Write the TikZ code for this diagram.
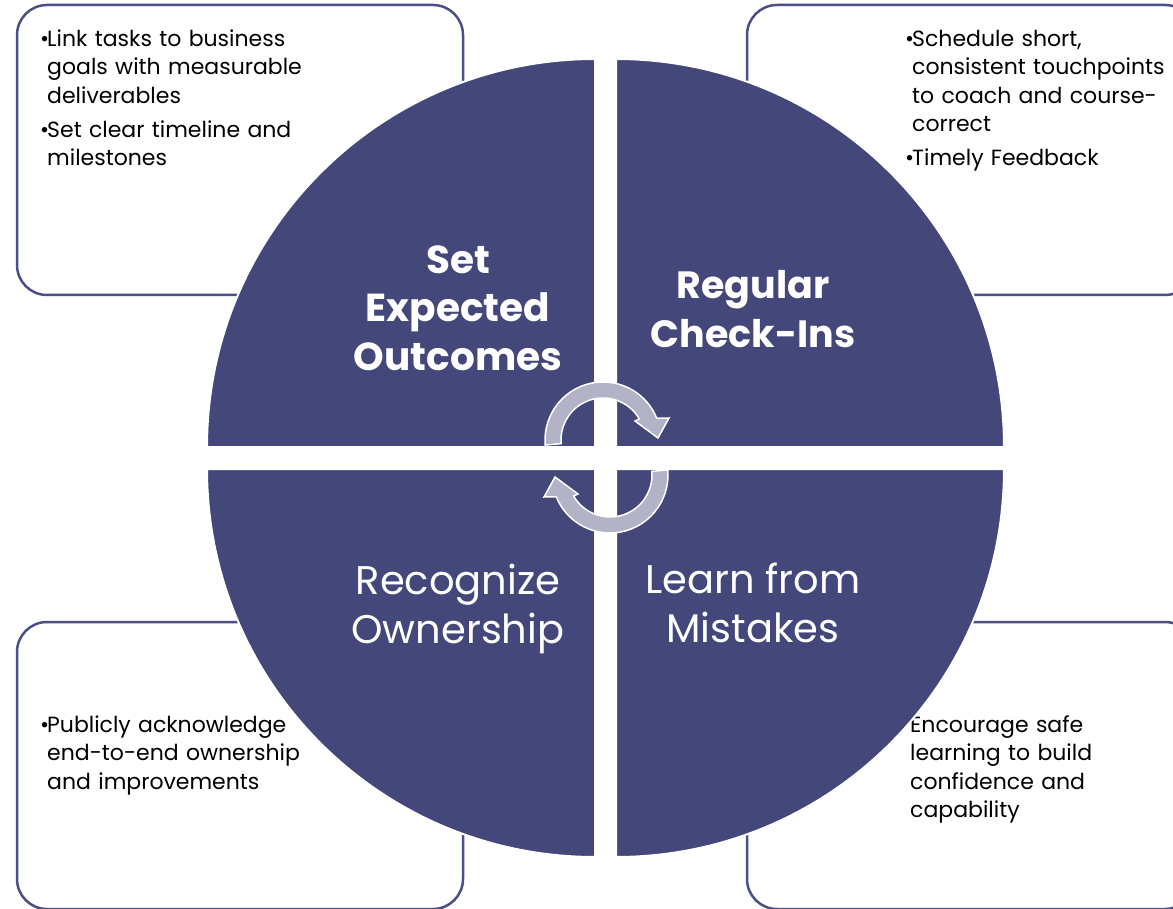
\documentclass[tikz,border=0pt]{standalone}
\usepackage{fontspec}
\setmainfont{Poppins}
\definecolor{quad}{HTML}{44477A}
\definecolor{boxline}{HTML}{4A4F86}
\definecolor{arrowfill}{HTML}{B3B3C7}
\newcommand\bul[1]{\par\hangindent=7pt\hangafter=1\noindent\makebox[7pt][l]{\textbullet}#1\par}
\newcommand\plain[1]{\par\noindent#1\par}
\newcommand\bulgap{\vspace{5.5pt}}
\begin{document}
\begin{tikzpicture}[x=1pt,y=-1pt,
  infobox/.style={draw=boxline, line width=2.5pt, rounded corners=30pt, fill=white},
  quadrant/.style={fill=quad, draw=white, line width=2pt},
  cyclearrow/.style={fill=arrowfill, draw=white, line width=1.5pt},
  bullets/.style={anchor=north west, text width=330pt, inner sep=0pt,
    font=\fontsize{22}{28.5}\selectfont\raggedright},
  titlebold/.style={text=white, align=center, inner sep=0pt,
    font=\fontsize{39}{48.5}\selectfont\bfseries},
  titlereg/.style={text=white, align=center, inner sep=0pt,
    font=\fontsize{40}{48.5}\selectfont}]
\useasboundingbox (0,0) rectangle (1173,909);
\clip (0,0) rectangle (1173,909);
% boxes
\draw[infobox] (17,5) rectangle (463,295);
\draw[infobox] (747,5) rectangle (1195,295);
\draw[infobox] (17,622) rectangle (463,909);
\draw[infobox] (747,622) rectangle (1195,909);
% bullet texts
\node[bullets] (tltext) at (40,17.5) {%
  \bul{Link tasks to business\newline goals with measurable\newline deliverables}\bulgap
  \bul{Set clear timeline and\newline milestones}};
\node[bullets] (trtext) at (905,17.5) {%
  \bul{Schedule short,\newline consistent touchpoints\newline to coach and course-\newline correct}\bulgap
  \bul{Timely Feedback}};
\node[bullets] (bltext) at (40,703.5) {\bul{Publicly acknowledge\newline end-to-end ownership\newline and improvements}};
\node[bullets] (brtext) at (910,703.5) {\plain{Encourage safe\newline learning to build\newline confidence and\newline capability}};
% quadrants
\draw[quadrant] (595,447) -- (207,447) arc[start angle=180, end angle=90, radius=388pt] -- cycle;
\draw[quadrant] (616,447) -- (616,59) arc[start angle=90, end angle=0, radius=388pt] -- cycle;
\draw[quadrant] (616,469) -- (1004,469) arc[start angle=0, end angle=-90, radius=388pt] -- cycle;
\draw[quadrant] (595,469) -- (595,857) arc[start angle=270, end angle=180, radius=388pt] -- cycle;
% titles
\node[titlebold] (q1) at (458,308) {Set\\Expected\\Outcomes};
\node[titlebold, font=\fontsize{38}{48.5}\selectfont\bfseries] (q2) at (753,309) {Regular\\Check-Ins};
\node[titlereg] (q3) at (458,609) {Recognize\\Ownership};
\node[titlereg] (q4) at (753,603) {Learn from\\Mistakes};
% cycle arrows
\coordinate (c1) at (603,440);
\coordinate (c2) at (610,475);
\draw[cyclearrow] ([shift={(185:58pt)}]c1) arc[start angle=185, end angle=22, radius=58pt]
  -- (669,418) -- (658,438) -- (635,421) -- ([shift={(30:42pt)}]c1)
  arc[start angle=30, end angle=185, radius=42pt] -- cycle;
\draw[cyclearrow] ([shift={(5:58pt)}]c2) arc[start angle=5, end angle=-158, radius=58pt]
  -- (544,497) -- (555,477) -- (578,494) -- ([shift={(-150:42pt)}]c2)
  arc[start angle=-150, end angle=5, radius=42pt] -- cycle;
\end{tikzpicture}
\end{document}
